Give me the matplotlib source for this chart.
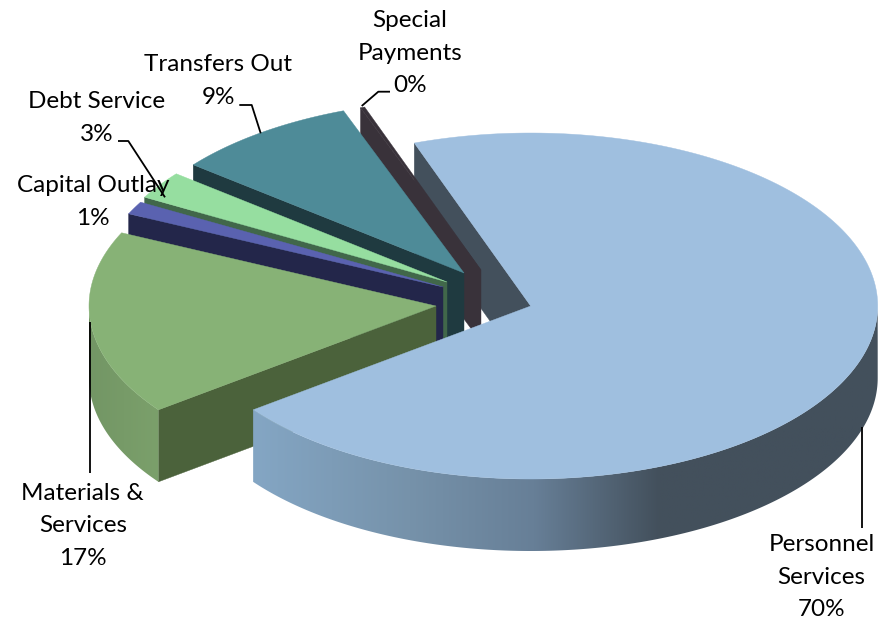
import numpy as np
import matplotlib
matplotlib.use('Agg')
from matplotlib import pyplot as plt
from matplotlib.colors import LinearSegmentedColormap
from matplotlib.patches import Polygon

plt.rcParams['font.family'] = ['Lato', 'DejaVu Sans']

# Budget shares, clockwise from the start angle
categories = ['Personnel\nServices', 'Materials &\nServices', 'Capital Outlay',
              'Debt Service', 'Transfers Out', 'Special\nPayments']
shares = [70.2, 17.2, 1.2, 2.6, 8.6, 0.2]

top_colors = ['#9fbfdf', '#87b276', '#5a62b0', '#96dea0', '#4e8b98', '#39323a']
side_colors = ['#43505c', '#4b623b', '#23264a', '#41674a', '#1f3a40', '#39323a']
# colours along the curved rim, left to right
rim_stops = {
    0: [(0.0, '#84a6c4'), (0.25, '#7692aa'), (0.45, '#677f97'), (0.65, '#43505c'), (1.0, '#43505c')],
    1: [(0.0, '#739665'), (1.0, '#7ba06b')],
}

# Pie layout in pixels
center_x, center_y = 484, 302
radius_x, radius_y = 347, 173
depth = 72
start_angle = 109.6
explode_x = [46.7, -48, -41, -37, -20, -3]
explode_y = [4, 4, -15, -20, -29, -32]

# Text and leader lines
label_x = [821.7, 82.8, 93.3, 96.7, 218.5, 410]
label_y = [577, 526, 202, 118, 81, 53]
leaders = [
    [(861.7, 427), (861.7, 528)],
    [(90, 322), (90, 473)],
    None,
    [(118, 141), (128.3, 141), (165, 197.3)],
    [(239.3, 105), (251.7, 105), (260.7, 133.3)],
    [(390, 91.7), (378.3, 91.7), (361.7, 106)],
]

fig = plt.figure(figsize=(8.96, 6.21), dpi=100)
ax = fig.add_axes([0, 0, 1, 1])
ax.set_xlim(0, 896)
ax.set_ylim(621, 0)
ax.axis('off')


def rim_point(apex, angle):
    t = np.radians(angle)
    return apex[0] + radius_x * np.cos(t), apex[1] - radius_y * np.sin(t)


# Work out the angular range of each slice
ranges = []
angle = start_angle
for share in shares:
    sweep = share * 3.6
    ranges.append((angle - sweep, angle))
    angle -= sweep

apexes = [(center_x + dx, center_y + dy) for dx, dy in zip(explode_x, explode_y)]


def draw_radial_wall(i, z):
    hi = ranges[i][1]
    x0, y0 = apexes[i]
    x1, y1 = rim_point(apexes[i], hi)
    pts = [(x0, y0), (x1, y1), (x1, y1 + depth), (x0, y0 + depth)]
    ax.add_patch(Polygon(pts, closed=True, fc=side_colors[i], ec=side_colors[i], lw=0.3, zorder=z))


def draw_rim(i, z):
    # only the near half of the ellipse shows a rim
    lo, hi = ranges[i]
    vis_lo, vis_hi = max(lo, -180), min(hi, 0)
    if i not in rim_stops or vis_lo >= vis_hi:
        return
    angles = np.linspace(vis_lo, vis_hi, 300)
    xs, ys = rim_point(apexes[i], angles)
    pts = list(zip(xs, ys)) + list(zip(xs[::-1], ys[::-1] + depth))
    patch = Polygon(pts, closed=True, fc='none', ec='none', zorder=z)
    ax.add_patch(patch)
    cmap = LinearSegmentedColormap.from_list('rim', rim_stops[i])
    grad = np.linspace(0, 1, 256).reshape(1, -1)
    im = ax.imshow(grad, cmap=cmap, aspect='auto', zorder=z,
                   extent=(xs.min(), xs.max(), ys.max() + depth, ys.min()))
    im.set_clip_path(patch)


def draw_top(i, z):
    lo, hi = ranges[i]
    angles = np.linspace(lo, hi, 300)
    xs, ys = rim_point(apexes[i], angles)
    pts = [apexes[i]] + list(zip(xs, ys))
    ax.add_patch(Polygon(pts, closed=True, fc=top_colors[i], ec=top_colors[i], lw=0.3, zorder=z))


# Back to front: personnel cut face, then round the pie, personnel top last
z = 1
draw_radial_wall(0, z)
for i in [5, 4, 3, 2, 1]:
    z += 1
    draw_radial_wall(i, z)
    draw_rim(i, z)
    z += 1
    draw_top(i, z)
z += 1
draw_rim(0, z)
z += 1
draw_top(0, z)

ax.set_xlim(0, 896)
ax.set_ylim(621, 0)

for i, name in enumerate(categories):
    ax.text(label_x[i], label_y[i], f'{name}\n{shares[i]:.0f}%', ha='center', va='center',
            ma='center', fontsize=17.5, color='black', linespacing=1.67, zorder=50)
    if leaders[i]:
        lx, ly = zip(*leaders[i])
        ax.plot(lx, ly, color='black', lw=1.3, zorder=51, solid_capstyle='butt')

fig.savefig('out.png', dpi=100)
